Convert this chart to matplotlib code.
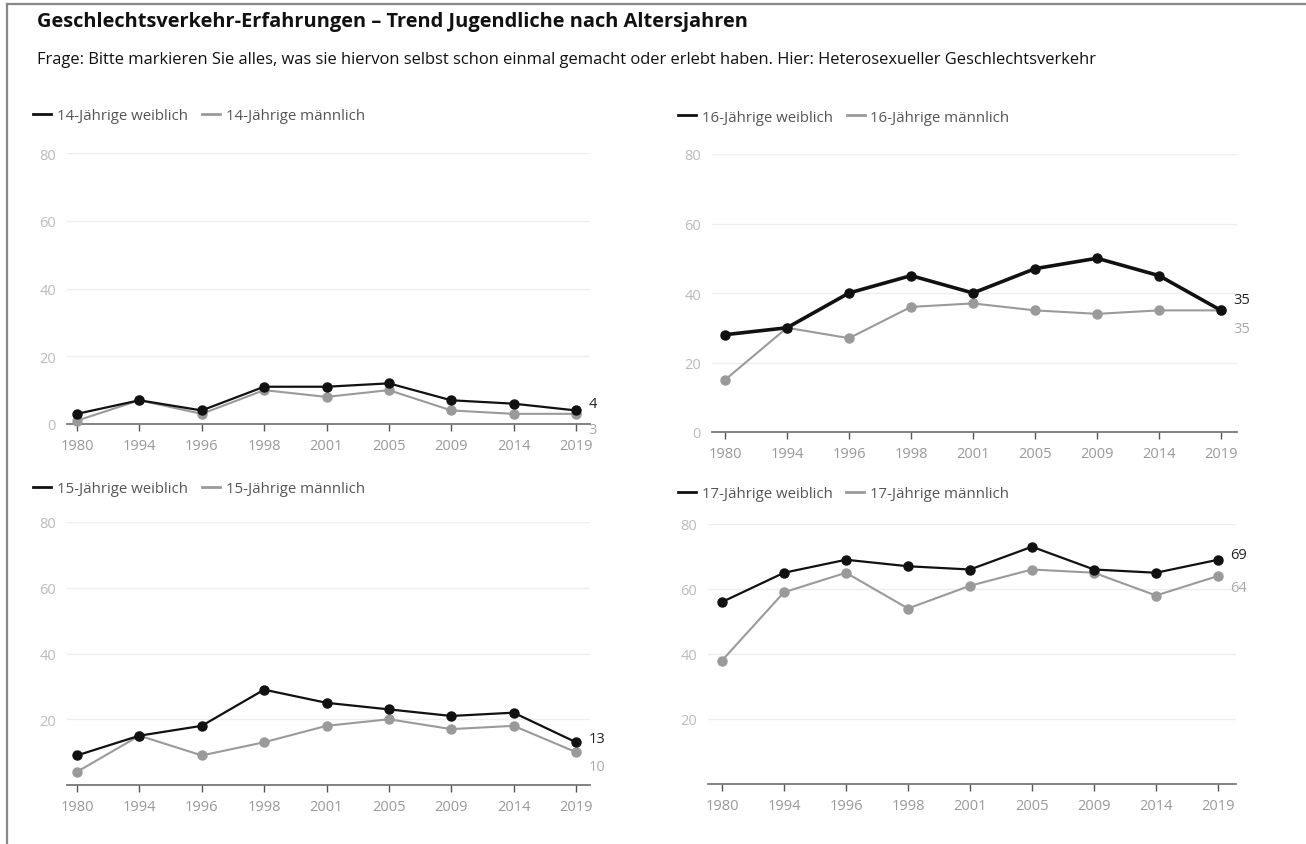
import matplotlib.pyplot as plt
from matplotlib.lines import Line2D
from matplotlib.transforms import Bbox

years = ["1980", "1994", "1996", "1998", "2001", "2005", "2009", "2014", "2019"]

f14 = [3, 7, 4, 11, 11, 12, 7, 6, 4]
m14 = [1, 7, 3, 10, 8, 10, 4, 3, 3]
f15 = [9, 15, 18, 29, 25, 23, 21, 22, 13]
m15 = [4, 15, 9, 13, 18, 20, 17, 18, 10]
f16 = [28, 30, 40, 45, 40, 47, 50, 45, 35]
m16 = [15, 30, 27, 36, 37, 35, 34, 35, 35]
f17 = [56, 65, 69, 67, 66, 73, 66, 65, 69]
m17 = [38, 59, 65, 54, 61, 66, 65, 58, 64]

title = "Geschlechtsverkehr-Erfahrungen – Trend Jugendliche nach Altersjahren"
subtitle = ("Frage: Bitte markieren Sie alles, was sie hiervon selbst schon einmal gemacht "
            "oder erlebt haben. Hier: Heterosexueller Geschlechtsverkehr")

W, H = 1306, 845
fig = plt.figure(figsize=(W / 100, H / 100), dpi=100)
fig.patch.set_facecolor("white")

FONT = "Open Sans"
BLACK = "#111111"
GREY = "#9a9a9a"

# frame lines
fig.add_artist(Line2D([7 / W, 1], [1 - 5 / H, 1 - 5 / H], color="#888888", lw=1.6))
fig.add_artist(Line2D([7 / W, 7 / W], [0, 1 - 5 / H], color="#888888", lw=1.6))

fig.text(37 / W, 1 - 22 / H, title, fontsize=14.4, fontweight="bold",
         family="Open Sans", va="center", ha="left", color="#111111")
fig.text(37 / W, 1 - 60 / H, subtitle, fontsize=11.85, family="Open Sans",
         va="center", ha="left", color="#111111")

# half-hidden ghost text in the upper right panel
ghost = fig.text(678 / W, 1 - 78 / H, "Hier: Heterosexueller Geschlechtsverkehr",
                 fontsize=10, family=FONT, va="center", ha="left", color="#d8d8d8")
ghost.set_clip_box(Bbox.from_extents(600, 0, 1100, H - 84))
ghost.set_clip_on(True)

# panel: (female, male, label, left px, right px, x0 px, x8 px, y0 px, y80 px,
#         legend x, legend y, show zero, female lw, label offsets)
panels = [
    (f14, m14, "14-Jährige", 67, 590, 77, 576, 425, 154, 33, 117, True, 1.6, (5, -11)),
    (f16, m16, "16-Jährige", 712, 1237, 725, 1221, 433, 155, 678, 118, True, 2.6, (8, -13)),
    (f15, m15, "15-Jährige", 67, 590, 77, 576, 786, 523, 33, 490, False, 1.6, (3, -10)),
    (f17, m17, "17-Jährige", 708, 1236, 722, 1218, 785, 525, 678, 495, False, 1.6, (4, -8)),
]

for fem, mal, lab, lpx, rpx, x0, x8, y0, y80, lgx, lgy, zero, flw, offs in panels:
    step = (x8 - x0) / 8
    ax = fig.add_axes([lpx / W, 1 - y0 / H, (rpx - lpx) / W, (y0 - y80) / H])
    ax.set_xlim((lpx - x0) / step, (rpx - x0) / step)
    ax.set_ylim(0, 80)
    xs = range(len(years))
    ax.plot(xs, mal, color=GREY, lw=1.5, marker="o", ms=6.5, zorder=3, clip_on=False)
    ax.plot(xs, fem, color=BLACK, lw=flw, marker="o", ms=6.5, zorder=4, clip_on=False)

    ax.annotate(str(fem[-1]), (8, fem[-1]), xytext=(9, offs[0]), textcoords="offset points",
                fontsize=10.5, family=FONT, color="#222222", va="center", ha="left")
    ax.annotate(str(mal[-1]), (8, mal[-1]), xytext=(9, offs[1]), textcoords="offset points",
                fontsize=10.5, family=FONT, color="#aaaaaa", va="center", ha="left")

    yt = [0, 20, 40, 60, 80] if zero else [20, 40, 60, 80]
    ax.set_yticks(yt)
    ax.set_yticklabels([str(v) for v in yt], family=FONT, fontsize=10.5, color="#bbbbbb")
    ax.tick_params(axis="y", length=0, pad=8)
    for v in [20, 40, 60, 80]:
        ax.axhline(v, color="#eeeeee", lw=1, zorder=0)

    ax.set_xticks(list(xs))
    ax.set_xticklabels(years, family=FONT, fontsize=10.5, color="#999999")
    ax.tick_params(axis="x", length=5, width=1, color="#555555", pad=5)

    for s in ["top", "right", "left"]:
        ax.spines[s].set_visible(False)
    ax.spines["bottom"].set_color("#777777")
    ax.spines["bottom"].set_linewidth(1.3)
    ax.patch.set_alpha(0)

    handles = [Line2D([], [], color=BLACK, lw=2), Line2D([], [], color=GREY, lw=2)]
    fig.legend(handles, [lab + " weiblich", lab + " männlich"], ncol=2, frameon=False,
               loc="center left", bbox_to_anchor=(lgx / W, 1 - lgy / H), borderaxespad=0,
               borderpad=0, handlelength=1.2, handletextpad=0.4, columnspacing=0.9,
               prop={"family": FONT, "size": 10.8}, labelcolor="#555555")

fig.savefig("out.png", dpi=100)
